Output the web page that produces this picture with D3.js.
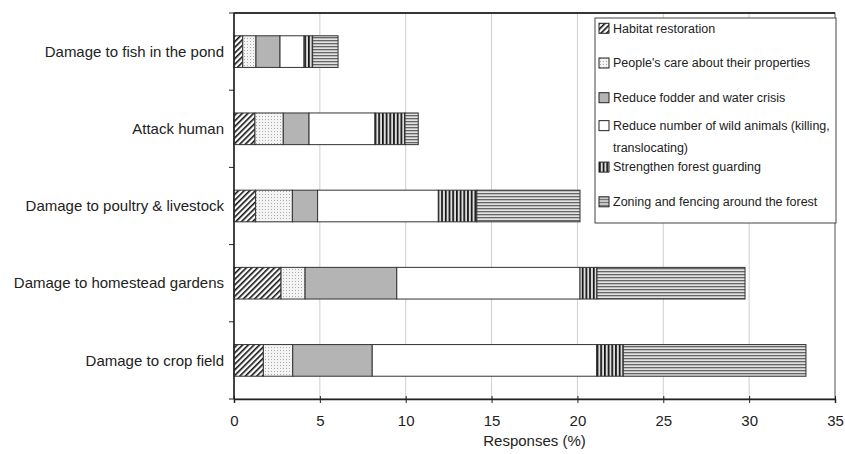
<!DOCTYPE html>
<html>
<head>
<meta charset="utf-8">
<script src="https://cdn.jsdelivr.net/npm/d3@7"></script>
<style>
  body { margin: 0; background: #fff; }
  svg text { font-family: "Liberation Sans", Arial, sans-serif; fill: #222; }
</style>
</head>
<body>
<svg id="chart" width="845" height="454"></svg>
<script>
// Categories, top to bottom
const categories = [
    'Damage to fish in the pond',
    'Attack human',
    'Damage to poultry & livestock',
    'Damage to homestead gardens',
    'Damage to crop field'
];

// Series values (% responses), same order as categories
const habitat   = [0.51, 1.22, 1.26, 2.74, 1.71];
const care      = [0.77, 1.65, 2.14, 1.40, 1.71];
const fodder    = [1.40, 1.50, 1.47, 5.34, 4.63];
const reduceNum = [1.40, 3.84, 7.03, 10.67, 13.07];
const guarding  = [0.50, 1.75, 2.24, 0.99, 1.55];
const zoning    = [1.48, 0.77, 6.01, 8.62, 10.64];

const seriesNames = [
    'Habitat restoration',
    "People's care about their properties",
    'Reduce fodder and water crisis',
    'Reduce number of wild animals (killing, translocating)',
    'Strengthen forest guarding',
    'Zoning and fencing around the forest'
];
const legendLines = [
    ['Habitat restoration'],
    ["People's care about their properties"],
    ['Reduce fodder and water crisis'],
    ['Reduce number of wild animals (killing,', 'translocating)'],
    ['Strengthen forest guarding'],
    ['Zoning and fencing around the forest']
];
const xTicks = [0, 5, 10, 15, 20, 25, 30, 35];

const seriesData = [habitat, care, fodder, reduceNum, guarding, zoning];
const fills = ['url(#p-hatch)', 'url(#p-dots)', '#b4b4b4', '#fff', 'url(#p-vert)', 'url(#p-horiz)'];

// Build rows for d3.stack
const rows = categories.map((c, i) => {
    const r = {category: c};
    seriesNames.forEach((s, j) => { r[s] = seriesData[j][i]; });
    return r;
});

const margin = {top: 13, right: 10, bottom: 55, left: 234};
const width = 835 - margin.left;
const height = 399 - margin.top;

const svg = d3.select('#chart');
const defs = svg.append('defs');

// Patterns
const hatch = defs.append('pattern').attr('id', 'p-hatch')
    .attr('patternUnits', 'userSpaceOnUse').attr('width', 4).attr('height', 4)
    .attr('patternTransform', 'rotate(45)');
hatch.append('rect').attr('width', 4).attr('height', 4).attr('fill', '#fff');
hatch.append('line').attr('x1', 0).attr('y1', 0).attr('x2', 0).attr('y2', 4)
    .attr('stroke', '#111').attr('stroke-width', 3.2);

const dots = defs.append('pattern').attr('id', 'p-dots')
    .attr('patternUnits', 'userSpaceOnUse').attr('width', 3).attr('height', 3);
dots.append('rect').attr('width', 3).attr('height', 3).attr('fill', '#f4f4f4');
dots.append('rect').attr('x', 1).attr('y', 1).attr('width', 1).attr('height', 1).attr('fill', '#aaa');

const vert = defs.append('pattern').attr('id', 'p-vert')
    .attr('patternUnits', 'userSpaceOnUse').attr('width', 3.7).attr('height', 4);
vert.append('rect').attr('width', 3.7).attr('height', 4).attr('fill', '#ddd');
vert.append('rect').attr('x', 0).attr('width', 1.7).attr('height', 4).attr('fill', '#111');

const horiz = defs.append('pattern').attr('id', 'p-horiz')
    .attr('patternUnits', 'userSpaceOnUse').attr('width', 4).attr('height', 3);
horiz.append('rect').attr('width', 4).attr('height', 3).attr('fill', '#e2e2e2');
horiz.append('rect').attr('y', 0).attr('width', 4).attr('height', 1.3).attr('fill', '#666');

const g = svg.append('g').attr('transform', `translate(${margin.left},${margin.top})`);

const x = d3.scaleLinear().domain([0, 35]).range([0, width]);
const y = d3.scaleBand().domain(categories).range([0, height]).padding(0);

// Gridlines
g.selectAll('.grid')
    .data(xTicks.filter(t => t > 0 && t < 35))
    .enter().append('line')
    .attr('x1', d => x(d)).attr('x2', d => x(d))
    .attr('y1', 0).attr('y2', height)
    .attr('stroke', '#cfcfcf').attr('stroke-width', 1);

// Plot border
g.append('rect').attr('width', width).attr('height', height)
    .attr('fill', 'none').attr('stroke', '#555').attr('stroke-width', 1);
g.append('line').attr('x1', 0).attr('x2', width).attr('y1', 0).attr('y2', 0)
    .attr('stroke', '#111').attr('stroke-width', 1.5);

// Stacked bars
const stack = d3.stack().keys(seriesNames)(rows);
const barH = y.bandwidth() * 0.41;
stack.forEach((layer, j) => {
    g.selectAll(`.bar-${j}`)
        .data(layer)
        .enter().append('rect')
        .attr('x', d => x(d[0]))
        .attr('y', d => y(d.data.category) + (y.bandwidth() - barH) / 2)
        .attr('width', d => x(d[1]) - x(d[0]))
        .attr('height', barH)
        .attr('fill', fills[j])
        .attr('stroke', '#333')
        .attr('stroke-width', 1);
});

// X axis
const xAxis = g.append('g')
    .attr('transform', `translate(0,${height})`)
    .call(d3.axisBottom(x).tickValues(xTicks).tickSize(4).tickPadding(12));
xAxis.select('.domain').attr('stroke', '#222').attr('stroke-width', 1.5);
xAxis.selectAll('.tick line').attr('y1', -3).attr('stroke', '#222');
xAxis.selectAll('.tick text').style('font-size', '15px');

// Y axis line and ticks at band boundaries
g.append('line').attr('x1', 0).attr('x2', 0).attr('y1', 0).attr('y2', height)
    .attr('stroke', '#222').attr('stroke-width', 1.5);
g.selectAll('.ytick')
    .data(categories.map(c => y(c)).concat([height]))
    .enter().append('line')
    .attr('x1', -5).attr('x2', 0)
    .attr('y1', d => d).attr('y2', d => d)
    .attr('stroke', '#222');

// Category labels
g.selectAll('.ylabel')
    .data(categories)
    .enter().append('text')
    .attr('x', -10)
    .attr('y', d => y(d) + y.bandwidth() / 2)
    .attr('dy', '0.35em')
    .attr('text-anchor', 'end')
    .style('font-size', '15px')
    .text(d => d);

// X axis title
svg.append('text')
    .attr('x', margin.left + width / 2)
    .attr('y', 446)
    .attr('text-anchor', 'middle')
    .style('font-size', '15px')
    .text('Responses (%)');

// Legend
const legend = svg.append('g').attr('transform', 'translate(595,18)');
legend.append('rect').attr('width', 241).attr('height', 205)
    .attr('fill', '#fff').attr('stroke', '#444').attr('stroke-width', 1);
const slot = 34.7;
const item = legend.selectAll('.item')
    .data(legendLines)
    .enter().append('g')
    .attr('transform', (d, i) => `translate(4,${10.3 + i * slot + (d.length > 1 ? 4 : 0)})`);
item.append('rect')
    .attr('x', 0)
    .attr('y', d => -5 - (d.length - 1) * 10.75)
    .attr('width', 10).attr('height', 10)
    .attr('fill', (d, i) => fills[i])
    .attr('stroke', '#222');
item.each(function(d) {
    const t = d3.select(this).append('text')
        .attr('x', 14)
        .style('font-size', '12.5px');
    d.forEach((line, k) => {
        t.append('tspan').attr('x', 14)
            .attr('y', (k - (d.length - 1) / 2) * 21.5)
            .attr('dy', '0.35em')
            .text(line);
    });
});
</script>
</body>
</html>
